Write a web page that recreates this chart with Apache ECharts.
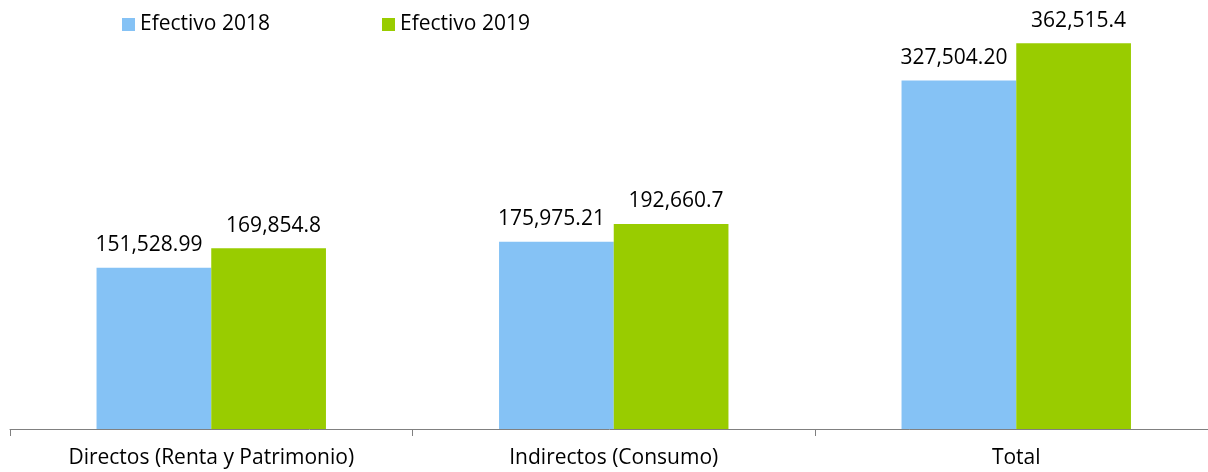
<!DOCTYPE html>
<html>
<head>
<meta charset="utf-8">
<script src="https://cdn.jsdelivr.net/npm/echarts@6/dist/echarts.min.js"></script>
<style>
html,body{margin:0;padding:0;background:#fff;}
#chart{width:1208px;height:472px;}
</style>
</head>
<body>
<div id="chart"></div>
<script>
const categories = ['Directos (Renta y Patrimonio)', 'Indirectos (Consumo)', 'Total'];
const seriesNames = ['Efectivo 2018', 'Efectivo 2019'];
const values2018 = [151528.99, 175975.21, 327504.20];
const values2019 = [169854.8, 192660.7, 362515.4];

const FONT = '"Open Sans", "Liberation Sans", sans-serif';
const fmt = (d) => (p) => Number(p.value).toLocaleString('en-US', {minimumFractionDigits: d, maximumFractionDigits: d});

const chart = echarts.init(document.getElementById('chart'));
chart.setOption({
  animation: false,
  textStyle: {fontFamily: FONT},
  legend: [
    {data: [seriesNames[0]], left: 117, top: 9, itemWidth: 13, itemHeight: 13, icon: 'rect', itemGap: 0,
     textStyle: {fontFamily: FONT, fontSize: 21, color: '#000'}},
    {data: [seriesNames[1]], left: 377, top: 9, itemWidth: 13, itemHeight: 13, icon: 'rect', itemGap: 0,
     textStyle: {fontFamily: FONT, fontSize: 21, color: '#000'}}
  ],
  grid: {left: 10, width: 1207.5, top: 3.4, bottom: 43, containLabel: false, outerBoundsMode: 'none'},
  xAxis: {
    type: 'category',
    data: categories,
    boundaryGap: true,
    axisLine: {lineStyle: {color: '#808080', width: 1}},
    axisTick: {show: true, length: 7, lineStyle: {color: '#808080'}},
    axisLabel: {fontFamily: FONT, fontSize: 21, color: '#000', margin: 19}
  },
  yAxis: {
    type: 'value', min: 0, max: 400000, show: false,
    splitLine: {show: false}
  },
  series: [
    {
      name: seriesNames[0], type: 'bar', data: values2018,
      barGap: '0%', barCategoryGap: '43%',
      itemStyle: {color: '#85C2F5'},
      label: {show: true, position: 'top', distance: 12, offset: [-5, 0], fontFamily: FONT, fontSize: 21, color: '#000', formatter: fmt(2)}
    },
    {
      name: seriesNames[1], type: 'bar', data: values2019,
      barGap: '0%', barCategoryGap: '43%',
      itemStyle: {color: '#99CC00'},
      label: {show: true, position: 'top', distance: 12, offset: [5, 0], fontFamily: FONT, fontSize: 21, color: '#000', formatter: fmt(1)}
    }
  ]
});
</script>
</body>
</html>
